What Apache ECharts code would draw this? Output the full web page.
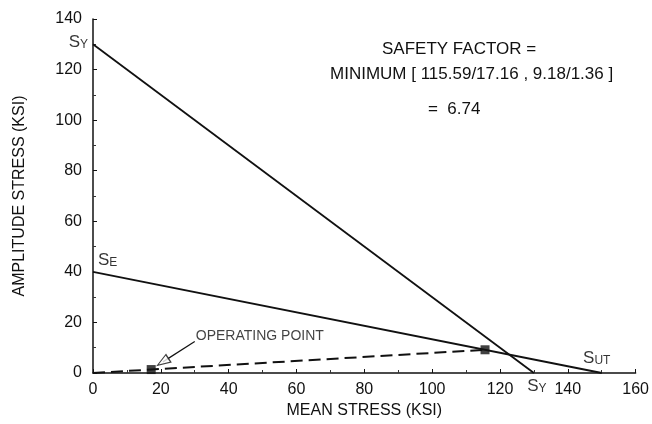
<!DOCTYPE html>
<html><head><meta charset="utf-8">
<script src="https://cdn.jsdelivr.net/npm/echarts@6/dist/echarts.min.js"></script>
<style>html,body{margin:0;padding:0;background:#fff}#c{width:652px;height:424px}</style>
</head><body><div id="c"></div>
<script>
const Sy = 130;          // yield strength (ksi)
const Se = 40;           // endurance limit (ksi)
const Sut = 150;         // ultimate strength (ksi)
const operatingPoint = [17.16, 1.36];
const limitPoint = [115.59, 9.18];
const xTicks = [0, 20, 40, 60, 80, 100, 120, 140, 160];
const yTicks = [0, 20, 40, 60, 80, 100, 120, 140];
const arrowLine = [[30, 12.5], [20.6, 4.4]];

const F = 'Liberation Sans, Arial, Helvetica, sans-serif';
const rich = {
  s: {fontSize: 17, fontFamily: F, color: '#000'},
  sub: {fontSize: 12, fontFamily: F, color: '#000', verticalAlign: 'bottom'}
};
const chart = echarts.init(document.getElementById('c'));
chart.setOption({
  animation: false,
  grid: {left: 93, right: 15, top: 19, bottom: 49, containLabel: false},
  xAxis: {
    type: 'value', min: 0, max: 160, interval: 20,
    name: 'MEAN STRESS (KSI)', nameLocation: 'middle', nameGap: 30,
    nameTextStyle: {fontFamily: F, fontSize: 16, color: '#111'},
    axisLine: {lineStyle: {color: '#111', width: 1.5}},
    axisTick: {inside: true, length: 4, lineStyle: {color: '#111'}},
    minorTick: {show: true, splitNumber: 2, length: 3, lineStyle: {color: '#333'}},
    axisLabel: {fontFamily: F, fontSize: 16, color: '#111', margin: 9},
    splitLine: {show: false}
  },
  yAxis: {
    type: 'value', min: 0, max: 140, interval: 20,
    name: 'AMPLITUDE STRESS (KSI)', nameLocation: 'middle', nameGap: 65, nameRotate: 90,
    nameTextStyle: {fontFamily: F, fontSize: 16, color: '#111'},
    axisLine: {show: true, lineStyle: {color: '#111', width: 1.5}},
    axisTick: {show: true, inside: true, length: 4, lineStyle: {color: '#111'}},
    minorTick: {show: true, splitNumber: 2, length: 3, lineStyle: {color: '#333'}},
    axisLabel: {fontFamily: F, fontSize: 16, color: '#111', margin: 11},
    splitLine: {show: false}
  },
  graphic: [
    {type: 'text', left: 382, top: 41, style: {text: 'SAFETY FACTOR =', font: '17px ' + F, fill: '#111'}},
    {type: 'text', left: 330, top: 66, style: {text: 'MINIMUM [ 115.59/17.16 , 9.18/1.36 ]', font: '17px ' + F, fill: '#111'}},
    {type: 'text', left: 428, top: 101, style: {text: '=  6.74', font: '17px ' + F, fill: '#111'}}
  ],
  series: [
    {type: 'line', data: [[0, Sy], [Sy, 0]], symbol: 'none', lineStyle: {color: '#111', width: 1.8}, z: 3},
    {type: 'line', data: [[0, Se], [Sut, 0]], symbol: 'none', lineStyle: {color: '#111', width: 1.8}, z: 3},
    {type: 'line', data: [[0, 0], limitPoint], symbol: 'none', lineStyle: {color: '#111', width: 2, type: [12, 6]}, z: 3},
    {type: 'scatter', data: [operatingPoint, limitPoint], symbol: 'rect', symbolSize: 9, itemStyle: {color: '#111'}, z: 5},
    {type: 'line', data: arrowLine, symbol: 'none', lineStyle: {color: '#111', width: 1.2}, z: 4},
    {type: 'scatter', data: [arrowLine[1]], symbol: 'triangle', symbolSize: [9, 13], symbolRotate: 123,
      itemStyle: {color: '#fff', borderColor: '#111', borderWidth: 1.2}, z: 6},
    {type: 'scatter', symbolSize: 0, z: 7, silent: true,
      data: [
        {value: arrowLine[0], label: {show: true, position: 'right', distance: 1, offset: [0, -5], formatter: 'OPERATING POINT', fontFamily: F, fontSize: 14, color: '#111'}},
        {value: [0, Sy], label: {show: true, position: 'left', distance: 5, offset: [0, -2], formatter: '{s|S}{sub|Y}', rich: rich, color: '#000'}},
        {value: [0, Se], label: {show: true, position: 'right', distance: 5, offset: [0, -12], formatter: '{s|S}{sub|E}', rich: rich, color: '#000'}},
        {value: [Sut, 0], label: {show: true, position: 'top', distance: 6, offset: [-5, 0], formatter: '{s|S}{sub|UT}', rich: rich, color: '#000'}},
        {value: [Sy, 0], label: {show: true, position: 'bottom', distance: 5, offset: [3, 0], formatter: '{s|S}{sub|Y}', rich: rich, color: '#000'}}
      ]}
  ]
});
</script></body></html>
